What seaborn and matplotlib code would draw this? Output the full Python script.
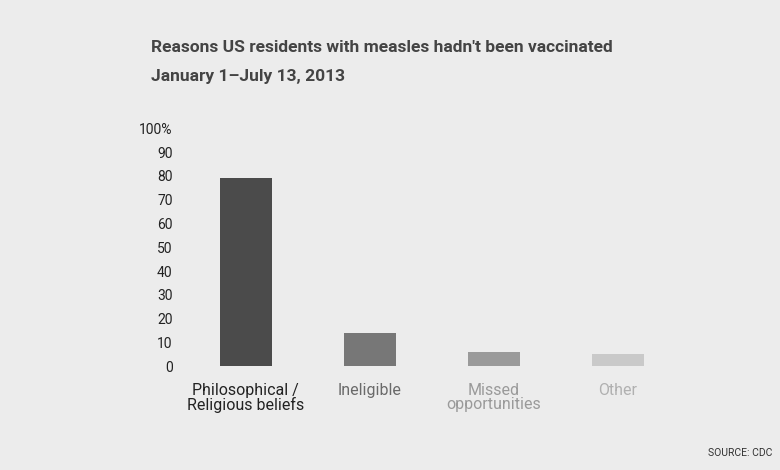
import matplotlib
matplotlib.use("Agg")
import matplotlib.pyplot as plt
import seaborn as sns
import pandas as pd

categories = ["Philosophical /\nReligious beliefs", "Ineligible", "Missed\nopportunities", "Other"]
values = [79, 14, 6, 5]
bar_colors = ["#4b4b4b", "#777777", "#9a9a9a", "#c9c9c9"]
label_colors = ["#222222", "#6a6a6a", "#9a9a9a", "#b0b0b0"]
ticks = [0, 10, 20, 30, 40, 50, 60, 70, 80, 90, 100]
tick_labels = ["0", "10", "20", "30", "40", "50", "60", "70", "80", "90", "100%"]

bg = "#ececec"
fig = plt.figure(figsize=(7.8, 4.7), dpi=100, facecolor=bg)
ax = fig.add_axes([0.225, 0.221, 0.668, 0.506], facecolor=bg)
df = pd.DataFrame({"cat": categories, "val": values})
sns.barplot(data=df, x="cat", y="val", hue="cat", palette=bar_colors, legend=False,
            width=0.42, ax=ax, saturation=1)
ax.set_ylim(0, 100)
ax.set_xlim(-0.565, 3.635)
ax.set_yticks(ticks)
ax.set_yticklabels(tick_labels, fontsize=10, color="#222222", family="Roboto")
ax.tick_params(axis="y", length=0, pad=2)
ax.tick_params(axis="x", length=0, pad=12)
ax.set_xticks(range(4))
ax.set_xticklabels(categories, fontsize=11.5, family="Roboto", linespacing=0.95)
for t, c in zip(ax.get_xticklabels(), label_colors):
    t.set_color(c)
ax.set_xlabel("")
ax.set_ylabel("")
for s in ax.spines.values():
    s.set_visible(False)

fig.text(0.193, 0.89, "Reasons US residents with measles hadn't been vaccinated",
         fontsize=12.5, fontweight="bold", color="#444444", family="Roboto")
fig.text(0.193, 0.828, "January 1\u2013July 13, 2013",
         fontsize=12.5, fontweight="bold", color="#444444", family="Roboto")
fig.text(0.908, 0.03, "SOURCE: CDC", fontsize=7.5, color="#333333", family="Roboto")
fig.savefig("out.png", dpi=100, facecolor=bg)
